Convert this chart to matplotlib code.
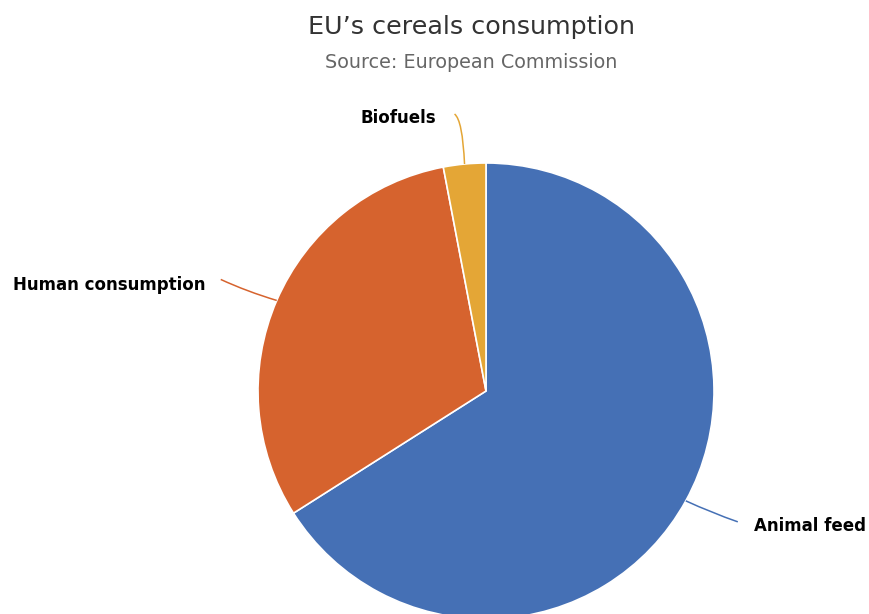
import numpy as np
import matplotlib
matplotlib.use("Agg")
import matplotlib.pyplot as plt
from matplotlib.path import Path
from matplotlib.patches import PathPatch

# EU cereals consumption shares (%)
labels = ["Animal feed", "Human consumption", "Biofuels"]
shares = [66, 31, 3]
colors = ["#4570b5", "#d6632e", "#e4a636"]

W, H = 869, 614
fig = plt.figure(figsize=(W / 100, H / 100), dpi=100)
ax = fig.add_axes([0, 0, 1, 1])

cx, cy, r = 486, H - 391, 228
wedges, _ = ax.pie(shares, colors=colors, startangle=90, counterclock=False,
                   center=(cx, cy), radius=r, frame=True,
                   wedgeprops=dict(edgecolor="white", linewidth=1.2))
ax.set_xlim(0, W)
ax.set_ylim(0, H)
ax.set_aspect("equal")
ax.axis("off")

# connector: control offset, end offset (from slice edge point), text offset from end, ha
conn = {
    "Animal feed": ((26, -12), (52, -21), (16, -4), "left"),
    "Human consumption": ((-30, 9), (-56, 21), (-15, -6), "right"),
    "Biofuels": ((-2, 44), (-10, 50), (-18, -4), "right"),
}

for w, lab, col in zip(wedges, labels, colors):
    ang = np.deg2rad((w.theta1 + w.theta2) / 2)
    ex, ey = cx + r * np.cos(ang), cy + r * np.sin(ang)
    (c1, c2), (e1, e2), (t1, t2), ha = conn[lab]
    p = Path([(ex, ey), (ex + c1, ey + c2), (ex + e1, ey + e2)],
             [Path.MOVETO, Path.CURVE3, Path.CURVE3])
    ax.add_patch(PathPatch(p, fc="none", ec=col, lw=1.1))
    ax.text(ex + e1 + t1, ey + e2 + t2, lab, ha=ha, va="center",
            fontsize=12, fontweight="bold", color="black")

fig.text(471 / W, 1 - 27 / H, "EU\u2019s cereals consumption", ha="center",
         va="center", fontsize=18.3, color="#333333")
fig.text(471 / W, 1 - 63 / H, "Source: European Commission", ha="center",
         va="center", fontsize=13.8, color="#666666")

fig.savefig("out.png", dpi=100)
